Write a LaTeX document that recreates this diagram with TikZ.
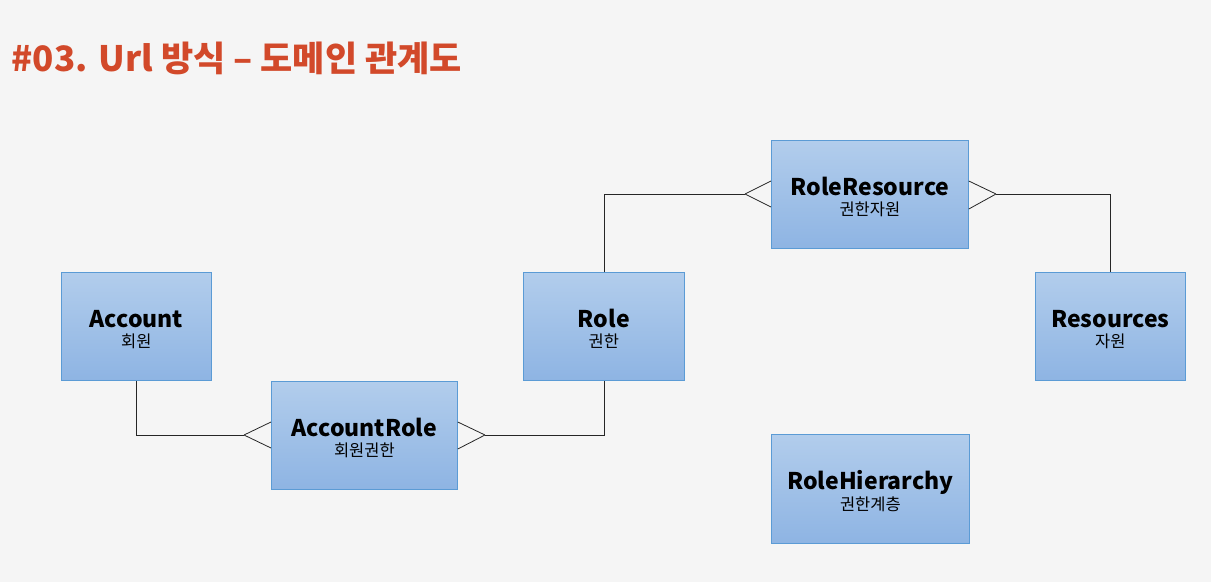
\documentclass[tikz,border=0pt]{standalone}
\usepackage{fontspec}
\setmainfont{Noto Sans CJK KR}
\usetikzlibrary{positioning}
\definecolor{bg}{HTML}{F5F5F5}
\definecolor{titlec}{HTML}{D2492A}
\definecolor{boxtop}{HTML}{B2CDEC}
\definecolor{boxbot}{HTML}{8EB4E3}
\definecolor{boxline}{HTML}{5B9BD5}
\tikzset{
  entity/.style={draw=boxline, line width=0.8pt, top color=boxtop, bottom color=boxbot, inner sep=0pt, anchor=north west, align=center, font=\fontsize{23}{20.5}\selectfont\bfseries},
  link/.style={draw=black!85, line width=0.8pt},
}
\newcommand{\ent}[2]{\rule{0pt}{23pt}#1\\{\fontsize{16.5}{20.5}\selectfont\mdseries #2}}
\begin{document}
\begin{tikzpicture}[x=1pt,y=-1pt]
\useasboundingbox (0,0) rectangle (1211,582);
\fill[bg] (0,0) rectangle (1211,582);
\node[anchor=west, text=titlec, font=\fontsize{35}{37}\selectfont\bfseries] (title) at (8,58) {\#03. Url 방식 – 도메인 관계도};
% entities
\node[entity, minimum width=150pt, minimum height=108pt] (account) at (61,272) {\ent{Account}{회원}};
\node[entity, minimum width=186pt, minimum height=108pt] (accrole) at (271,381) {\ent{AccountRole}{회원권한}};
\node[entity, minimum width=161pt, minimum height=108pt] (role) at (523,272) {\ent{Role}{권한}};
\node[entity, minimum width=197pt, minimum height=108pt] (roleres) at (771,140) {\ent{RoleResource}{권한자원}};
\node[entity, minimum width=150pt, minimum height=108pt] (res) at (1035,272) {\ent{Resources}{자원}};
\node[entity, minimum width=198pt, minimum height=109pt] (rolehier) at (771,434) {\ent{RoleHierarchy}{권한계층}};
% crow's foot points
\coordinate (f1) at (244,435);
\coordinate (f2) at (485,435);
\coordinate (f3) at (745,194);
\coordinate (f4) at (996,194);
% Account - AccountRole
\draw[link] (account.south) |- (f1);
\draw[link] (f1) -- (accrole.west |- 0,422) (f1) -- (accrole.west |- 0,448);
% Role - AccountRole
\draw[link] (role.south) |- (f2);
\draw[link] (f2) -- (accrole.east |- 0,422) (f2) -- (accrole.east |- 0,449);
% Role - RoleResource
\draw[link] (role.north) |- (f3);
\draw[link] (f3) -- (roleres.west |- 0,181) (f3) -- (roleres.west |- 0,207);
% Resources - RoleResource
\draw[link] (res.north) |- (f4);
\draw[link] (f4) -- (roleres.east |- 0,181) (f4) -- (roleres.east |- 0,209);
\end{tikzpicture}
\end{document}
